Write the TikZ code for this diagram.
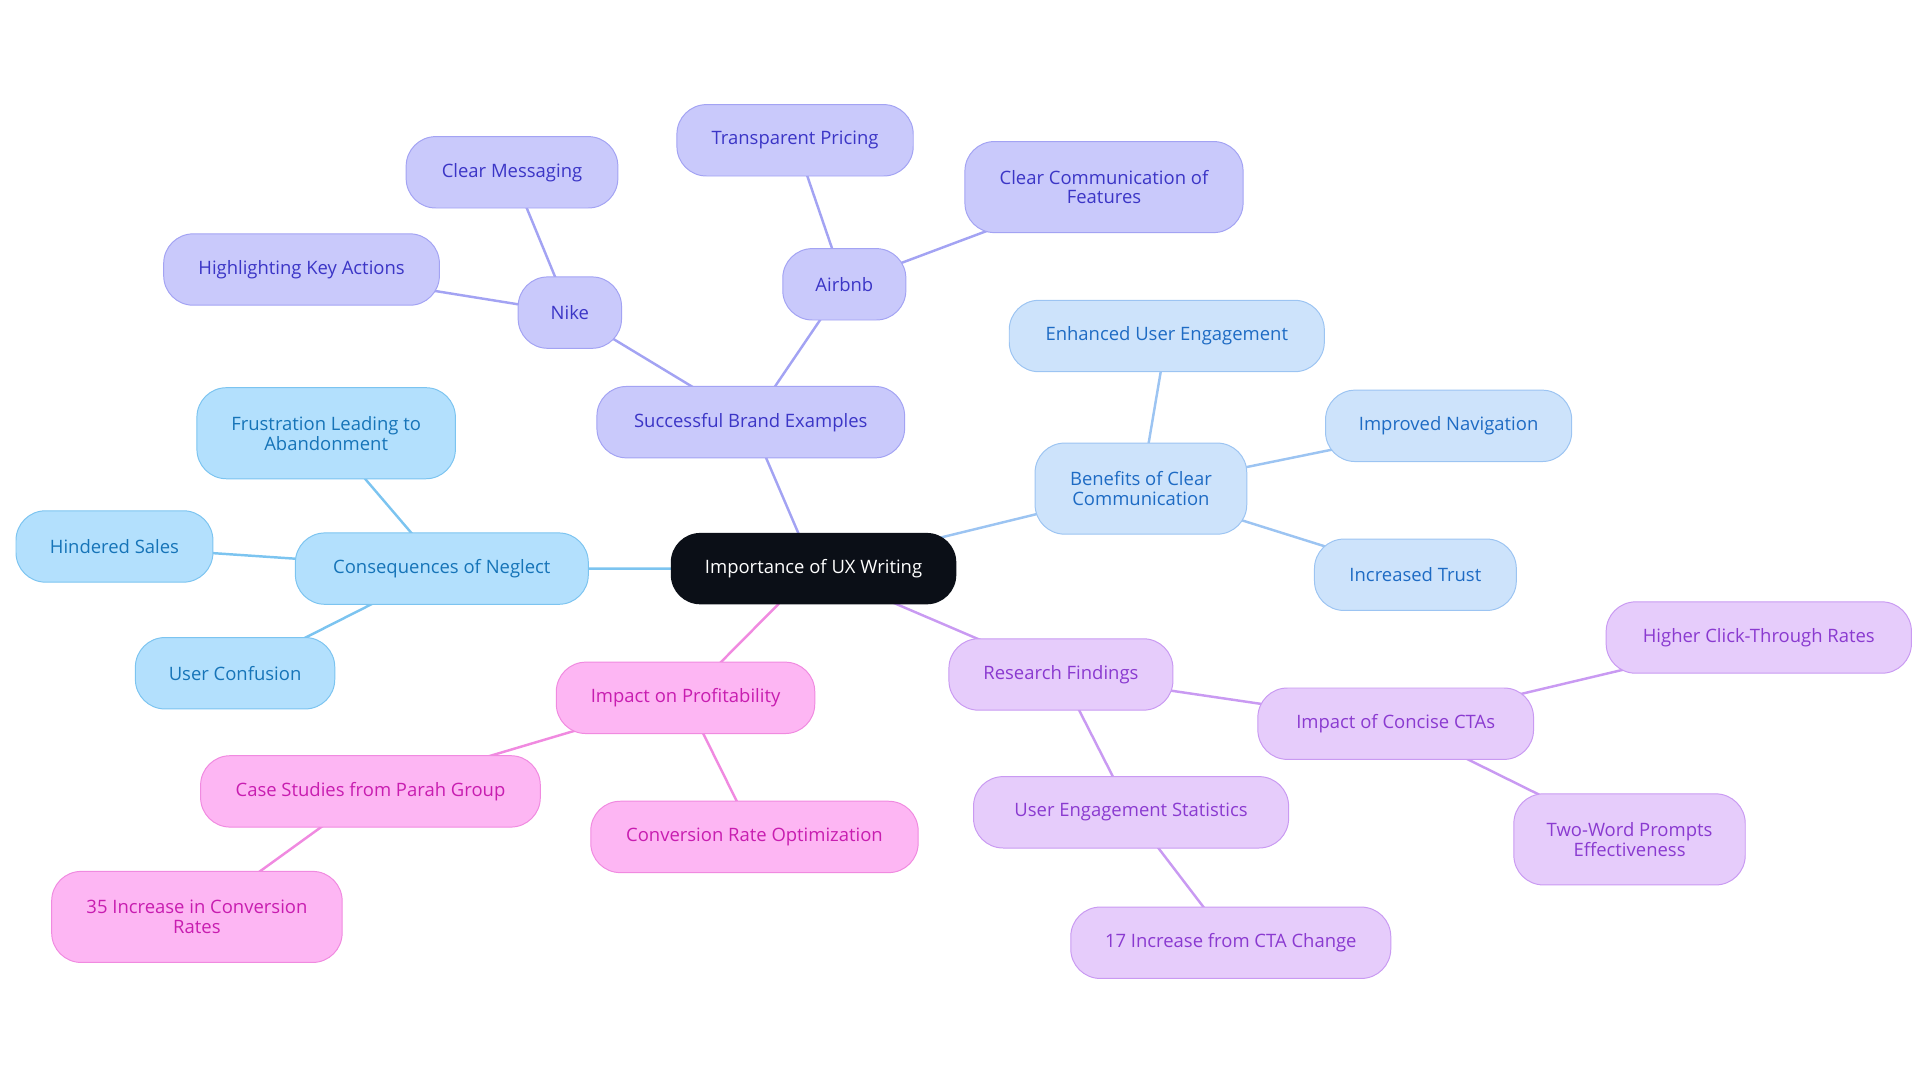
\documentclass[tikz,border=0pt]{standalone}
\usepackage{fontspec}
\setmainfont{Open Sans}
\usetikzlibrary{backgrounds}
\definecolor{vF}{HTML}{C9C9FB}\definecolor{vD}{HTML}{A3A3F3}\definecolor{vT}{HTML}{3B35C6}
\definecolor{bF}{HTML}{CDE3FB}\definecolor{bD}{HTML}{9CC4F2}\definecolor{bT}{HTML}{1E6BC4}
\definecolor{sF}{HTML}{B3E0FD}\definecolor{sD}{HTML}{7CC4F0}\definecolor{sT}{HTML}{1674B8}
\definecolor{pF}{HTML}{FDB6F3}\definecolor{pD}{HTML}{F08AE0}\definecolor{pT}{HTML}{C81DB0}
\definecolor{uF}{HTML}{E6CCFB}\definecolor{uD}{HTML}{C99AF2}\definecolor{uT}{HTML}{8A3AD0}
\definecolor{cF}{HTML}{0B0F17}
\tikzset{
 box/.style={rounded corners=24pt,line width=0.8pt,align=center,font=\fontsize{15}{16}\selectfont,inner sep=0pt,minimum height=58pt},
 tall/.style={minimum height=74pt},
 V/.style={box,fill=vF,draw=vD,text=vT},
 B/.style={box,fill=bF,draw=bD,text=bT},
 S/.style={box,fill=sF,draw=sD,text=sT},
 P/.style={box,fill=pF,draw=pD,text=pT},
 U/.style={box,fill=uF,draw=uD,text=uT},
 ed/.style={line width=2pt}
}
\begin{document}
\begin{tikzpicture}[x=1pt,y=-1pt]
\useasboundingbox (0,0) rectangle (1560,880);
\node[box,fill=cF,text=white,minimum width=232pt] (c) at (661,462) {Importance of UX Writing};
\node[V,minimum width=250pt] (sbe) at (610,343) {Successful Brand Examples};
\node[V,minimum width=84pt] (nike) at (463,254) {Nike};
\node[V,minimum width=172pt] (cm) at (416,140) {Clear Messaging};
\node[V,minimum width=224pt] (hka) at (245,219) {Highlighting Key Actions};
\node[V,minimum width=100pt] (air) at (686,231) {Airbnb};
\node[V,minimum width=192pt] (tp) at (646,114) {Transparent Pricing};
\node[V,tall,minimum width=226pt] (ccf) at (897,152) {Clear Communication of\\Features};
\node[B,tall,minimum width=172pt] (ben) at (927,397) {Benefits of Clear\\Communication};
\node[B,minimum width=256pt] (eue) at (948,273) {Enhanced User Engagement};
\node[B,minimum width=200pt] (inav) at (1177,346) {Improved Navigation};
\node[B,minimum width=164pt] (it) at (1150,467) {Increased Trust};
\node[S,minimum width=238pt] (con) at (359,462) {Consequences of Neglect};
\node[S,tall,minimum width=210pt] (fru) at (265,352) {Frustration Leading to\\Abandonment};
\node[S,minimum width=160pt] (hs) at (93,444) {Hindered Sales};
\node[S,minimum width=162pt] (uc) at (191,547) {User Confusion};
\node[P,minimum width=210pt] (ip) at (557,567) {Impact on Profitability};
\node[P,minimum width=276pt] (cs) at (301,643) {Case Studies from Parah Group};
\node[P,tall,minimum width=236pt] (i35) at (160,745) {35 Increase in Conversion\\Rates};
\node[P,minimum width=266pt] (cro) at (613,680) {Conversion Rate Optimization};
\node[U,minimum width=182pt] (rf) at (862,548) {Research Findings};
\node[U,minimum width=224pt] (icc) at (1134,588) {Impact of Concise CTAs};
\node[U,minimum width=248pt] (hctr) at (1429,518) {Higher Click-Through Rates};
\node[U,tall,minimum width=188pt] (two) at (1324,682) {Two-Word Prompts\\Effectiveness};
\node[U,minimum width=256pt] (ues) at (919,660) {User Engagement Statistics};
\node[U,minimum width=260pt] (i17) at (1000,766) {17 Increase from CTA Change};
\begin{scope}[on background layer]
\draw[ed,vD] (c.center)--(sbe.center) (sbe.center)--(nike.center) (nike.center)--(cm.center) (nike.center)--(hka.center) (sbe.center)--(air.center) (air.center)--(tp.center) (air.center)--(ccf.center);
\draw[ed,bD] (c.center)--(ben.center) (ben.center)--(eue.center) (ben.center)--(inav.center) (ben.center)--(it.center);
\draw[ed,sD] (c.center)--(con.center) (con.center)--(fru.center) (con.center)--(hs.center) (con.center)--(uc.center);
\draw[ed,pD] (c.center)--(ip.center) (ip.center)--(cs.center) (cs.center)--(i35.center) (ip.center)--(cro.center);
\draw[ed,uD] (c.center)--(rf.center) (rf.center)--(icc.center) (icc.center)--(hctr.center) (icc.center)--(two.center) (rf.center)--(ues.center) (ues.center)--(i17.center);
\end{scope}
\end{tikzpicture}
\end{document}
